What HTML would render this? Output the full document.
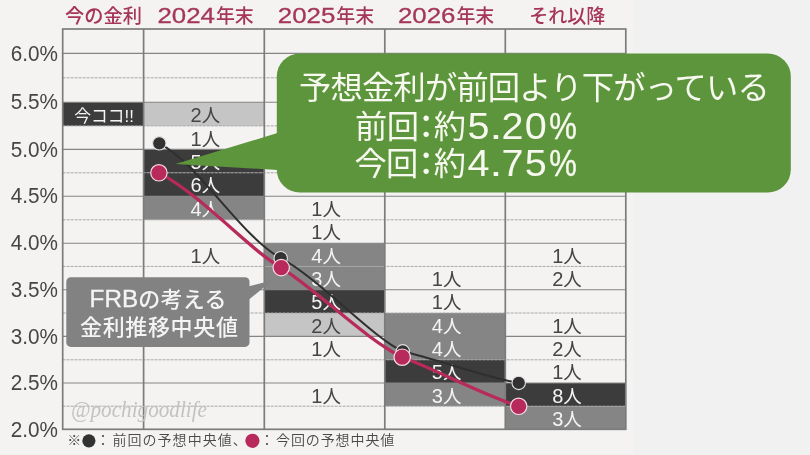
<!DOCTYPE html>
<html lang="ja"><head><meta charset="utf-8"><title>FRB 金利予想</title>
<style>html,body{margin:0;padding:0;background:#f4f3f2;overflow:hidden}svg{display:block;will-change:transform}text{font-family:'Liberation Sans','Noto Sans CJK JP',sans-serif}</style>
</head><body>
<svg width="810" height="455" viewBox="0 0 810 455">
<rect x="0" y="0" width="810" height="455" fill="#f4f3f2"/>
<rect x="633" y="0" width="177" height="455" fill="#f1f1f1"/>
<g>
<rect x="62.7" y="102.2" width="80.9" height="23.7" fill="#3d3c3c"/>
<rect x="143.6" y="102.2" width="120.7" height="23.7" fill="#c6c5c5"/>
<rect x="143.6" y="149.4" width="120.7" height="23.4" fill="#3d3c3c"/>
<rect x="143.6" y="172.8" width="120.7" height="23.4" fill="#3d3c3c"/>
<rect x="143.6" y="196.2" width="120.7" height="23.6" fill="#858585"/>
<rect x="264.3" y="243.2" width="120.5" height="23.2" fill="#858585"/>
<rect x="264.3" y="266.4" width="120.5" height="23.3" fill="#858585"/>
<rect x="264.3" y="289.7" width="120.5" height="23.3" fill="#3d3c3c"/>
<rect x="264.3" y="313.0" width="120.5" height="23.4" fill="#c6c5c5"/>
<rect x="384.8" y="313.0" width="120.5" height="23.4" fill="#858585"/>
<rect x="384.8" y="336.4" width="120.5" height="23.4" fill="#858585"/>
<rect x="384.8" y="359.8" width="120.5" height="23.2" fill="#3d3c3c"/>
<rect x="384.8" y="383.0" width="120.5" height="23.2" fill="#858585"/>
<rect x="505.3" y="383.0" width="120.5" height="23.2" fill="#3d3c3c"/>
<rect x="505.3" y="406.2" width="120.5" height="23.1" fill="#858585"/>
</g>
<g fill="none">
<line x1="62.7" y1="53.4" x2="625.8" y2="53.4" stroke="#858585" stroke-width="1.1"/>
<line x1="62.7" y1="77.8" x2="625.8" y2="77.8" stroke="#a8a8a8" stroke-width="1" stroke-dasharray="3 1"/>
<line x1="62.7" y1="102.2" x2="625.8" y2="102.2" stroke="#858585" stroke-width="1.1"/>
<line x1="62.7" y1="125.9" x2="625.8" y2="125.9" stroke="#a8a8a8" stroke-width="1" stroke-dasharray="3 1"/>
<line x1="62.7" y1="149.4" x2="625.8" y2="149.4" stroke="#858585" stroke-width="1.1"/>
<line x1="62.7" y1="172.8" x2="625.8" y2="172.8" stroke="#a8a8a8" stroke-width="1" stroke-dasharray="3 1"/>
<line x1="62.7" y1="196.2" x2="625.8" y2="196.2" stroke="#858585" stroke-width="1.1"/>
<line x1="62.7" y1="219.8" x2="625.8" y2="219.8" stroke="#a8a8a8" stroke-width="1" stroke-dasharray="3 1"/>
<line x1="62.7" y1="243.2" x2="625.8" y2="243.2" stroke="#858585" stroke-width="1.1"/>
<line x1="62.7" y1="266.4" x2="625.8" y2="266.4" stroke="#a8a8a8" stroke-width="1" stroke-dasharray="3 1"/>
<line x1="62.7" y1="289.7" x2="625.8" y2="289.7" stroke="#858585" stroke-width="1.1"/>
<line x1="62.7" y1="313.0" x2="625.8" y2="313.0" stroke="#a8a8a8" stroke-width="1" stroke-dasharray="3 1"/>
<line x1="62.7" y1="336.4" x2="625.8" y2="336.4" stroke="#858585" stroke-width="1.1"/>
<line x1="62.7" y1="359.8" x2="625.8" y2="359.8" stroke="#a8a8a8" stroke-width="1" stroke-dasharray="3 1"/>
<line x1="62.7" y1="383.0" x2="625.8" y2="383.0" stroke="#858585" stroke-width="1.1"/>
<line x1="62.7" y1="406.2" x2="625.8" y2="406.2" stroke="#a8a8a8" stroke-width="1" stroke-dasharray="3 1"/>
<line x1="143.6" y1="29.0" x2="143.6" y2="429.3" stroke="#7c7c7c" stroke-width="1.7"/>
<line x1="264.3" y1="29.0" x2="264.3" y2="429.3" stroke="#7c7c7c" stroke-width="1.7"/>
<line x1="384.8" y1="29.0" x2="384.8" y2="429.3" stroke="#7c7c7c" stroke-width="1.7"/>
<line x1="505.3" y1="29.0" x2="505.3" y2="429.3" stroke="#7c7c7c" stroke-width="1.7"/>
<rect x="62.7" y="29.0" width="563.1" height="400.3" stroke="#7c7c7c" stroke-width="1.7"/>
</g>
<g font-size="22" fill="#454545" text-anchor="end">
<text x="58" y="60.6" textLength="47.2" lengthAdjust="spacingAndGlyphs">6.0%</text>
<text x="58" y="109.4" textLength="47.2" lengthAdjust="spacingAndGlyphs">5.5%</text>
<text x="58" y="156.6" textLength="47.2" lengthAdjust="spacingAndGlyphs">5.0%</text>
<text x="58" y="203.4" textLength="47.2" lengthAdjust="spacingAndGlyphs">4.5%</text>
<text x="58" y="250.4" textLength="47.2" lengthAdjust="spacingAndGlyphs">4.0%</text>
<text x="58" y="296.9" textLength="47.2" lengthAdjust="spacingAndGlyphs">3.5%</text>
<text x="58" y="343.6" textLength="47.2" lengthAdjust="spacingAndGlyphs">3.0%</text>
<text x="58" y="390.2" textLength="47.2" lengthAdjust="spacingAndGlyphs">2.5%</text>
<text x="58" y="436.5" textLength="47.2" lengthAdjust="spacingAndGlyphs">2.0%</text>
</g>
<g font-size="19.6" font-weight="500" fill="#a5365a">
<text x="65" y="23.3" textLength="77" lengthAdjust="spacingAndGlyphs">今の金利</text>
<text x="157.4" y="23.3"><tspan font-size="22" stroke="#a5365a" stroke-width="0.3" textLength="57.5" lengthAdjust="spacingAndGlyphs">2024</tspan><tspan dx="1" textLength="37.8" lengthAdjust="spacingAndGlyphs">年末</tspan></text>
<text x="277.8" y="23.3"><tspan font-size="22" stroke="#a5365a" stroke-width="0.3" textLength="57.5" lengthAdjust="spacingAndGlyphs">2025</tspan><tspan dx="1" textLength="37.8" lengthAdjust="spacingAndGlyphs">年末</tspan></text>
<text x="397.9" y="23.3"><tspan font-size="22" stroke="#a5365a" stroke-width="0.3" textLength="57.5" lengthAdjust="spacingAndGlyphs">2026</tspan><tspan dx="1" textLength="37.8" lengthAdjust="spacingAndGlyphs">年末</tspan></text>
<text x="529.2" y="23.3" textLength="76" lengthAdjust="spacingAndGlyphs">それ以降</text>
</g>
<g text-anchor="middle">
<text x="104.1" y="121.5" font-size="17" fill="#f4f4f4" textLength="59.6" lengthAdjust="spacingAndGlyphs">今ココ!!</text>
<text x="205.4" y="121.8" fill="#454545"><tspan font-size="20">2</tspan><tspan font-size="18.5">人</tspan></text>
<text x="205.4" y="145.5" fill="#454545"><tspan font-size="20">1</tspan><tspan font-size="18.5">人</tspan></text>
<text x="205.4" y="169.0" fill="#f4f4f4"><tspan font-size="20">5</tspan><tspan font-size="18.5">人</tspan></text>
<text x="205.4" y="192.4" fill="#f4f4f4"><tspan font-size="20">6</tspan><tspan font-size="18.5">人</tspan></text>
<text x="205.4" y="215.8" fill="#f4f4f4"><tspan font-size="20">4</tspan><tspan font-size="18.5">人</tspan></text>
<text x="205.4" y="262.8" fill="#454545"><tspan font-size="20">1</tspan><tspan font-size="18.5">人</tspan></text>
<text x="326.1" y="215.8" fill="#454545"><tspan font-size="20">1</tspan><tspan font-size="18.5">人</tspan></text>
<text x="326.1" y="239.4" fill="#454545"><tspan font-size="20">1</tspan><tspan font-size="18.5">人</tspan></text>
<text x="326.1" y="262.8" fill="#f4f4f4"><tspan font-size="20">4</tspan><tspan font-size="18.5">人</tspan></text>
<text x="326.1" y="286.0" fill="#f4f4f4"><tspan font-size="20">3</tspan><tspan font-size="18.5">人</tspan></text>
<text x="326.1" y="309.3" fill="#f4f4f4"><tspan font-size="20">5</tspan><tspan font-size="18.5">人</tspan></text>
<text x="326.1" y="332.6" fill="#454545"><tspan font-size="20">2</tspan><tspan font-size="18.5">人</tspan></text>
<text x="326.1" y="356.0" fill="#454545"><tspan font-size="20">1</tspan><tspan font-size="18.5">人</tspan></text>
<text x="326.1" y="402.6" fill="#454545"><tspan font-size="20">1</tspan><tspan font-size="18.5">人</tspan></text>
<text x="446.6" y="286.0" fill="#454545"><tspan font-size="20">1</tspan><tspan font-size="18.5">人</tspan></text>
<text x="446.6" y="309.3" fill="#454545"><tspan font-size="20">1</tspan><tspan font-size="18.5">人</tspan></text>
<text x="446.6" y="332.6" fill="#f4f4f4"><tspan font-size="20">4</tspan><tspan font-size="18.5">人</tspan></text>
<text x="446.6" y="356.0" fill="#f4f4f4"><tspan font-size="20">4</tspan><tspan font-size="18.5">人</tspan></text>
<text x="446.6" y="379.4" fill="#f4f4f4"><tspan font-size="20">5</tspan><tspan font-size="18.5">人</tspan></text>
<text x="446.6" y="402.6" fill="#f4f4f4"><tspan font-size="20">3</tspan><tspan font-size="18.5">人</tspan></text>
<text x="567.0" y="262.8" fill="#454545"><tspan font-size="20">1</tspan><tspan font-size="18.5">人</tspan></text>
<text x="567.0" y="286.0" fill="#454545"><tspan font-size="20">2</tspan><tspan font-size="18.5">人</tspan></text>
<text x="567.0" y="332.6" fill="#454545"><tspan font-size="20">1</tspan><tspan font-size="18.5">人</tspan></text>
<text x="567.0" y="356.0" fill="#454545"><tspan font-size="20">2</tspan><tspan font-size="18.5">人</tspan></text>
<text x="567.0" y="379.4" fill="#454545"><tspan font-size="20">1</tspan><tspan font-size="18.5">人</tspan></text>
<text x="567.0" y="402.6" fill="#f4f4f4"><tspan font-size="20">8</tspan><tspan font-size="18.5">人</tspan></text>
<text x="567.0" y="425.8" fill="#f4f4f4"><tspan font-size="20">3</tspan><tspan font-size="18.5">人</tspan></text>
</g>
<path d="M159.3 143.3 C199.3 164.3,238.7 234.2,280.7 258.2 C318.7 278.2,372.8 338.3,402.8 351.3 C437.8 359.8,490.7 378.4,518.7 382.9" fill="none" stroke="#2f2f2f" stroke-width="2"/>
<path d="M158.7 172.7 C203.7 196.7,251.2 251.6,281.2 267.6 C321.2 293.6,364.2 338.2,402.2 357.2 C440.2 371.2,476.7 392.3,518.7 406.3" fill="none" stroke="#b72a5b" stroke-width="3.2"/>
<circle cx="159.3" cy="143.3" r="6.7" fill="#333232" stroke="#e4e1e1" stroke-width="1.1"/>
<circle cx="280.7" cy="258.2" r="6.7" fill="#333232" stroke="#e4e1e1" stroke-width="1.1"/>
<circle cx="402.8" cy="351.3" r="6.7" fill="#333232" stroke="#e4e1e1" stroke-width="1.1"/>
<circle cx="518.7" cy="382.9" r="6.7" fill="#333232" stroke="#e4e1e1" stroke-width="1.1"/>
<circle cx="158.9" cy="172.8" r="8.2" fill="#b72a5b" stroke="#f6dbe4" stroke-width="1.2"/>
<circle cx="281.2" cy="267.6" r="8.2" fill="#b72a5b" stroke="#f6dbe4" stroke-width="1.2"/>
<circle cx="402.2" cy="357.2" r="8.2" fill="#b72a5b" stroke="#f6dbe4" stroke-width="1.2"/>
<circle cx="518.7" cy="406.3" r="8.2" fill="#b72a5b" stroke="#f6dbe4" stroke-width="1.2"/>
<path d="M249 286.2 L272.5 280.2 L249 299.6 Z" fill="#828282"/>
<rect x="66.3" y="277.2" width="183.2" height="69.7" rx="4.5" fill="#828282"/>
<g fill="#f4f4f4" font-size="22" font-weight="500">
<text y="306.7"><tspan x="89.6" font-size="24.8" font-weight="400" stroke="#f4f4f4" stroke-width="0.35" textLength="48.5" lengthAdjust="spacingAndGlyphs">FRB</tspan><tspan x="138.2" letter-spacing="0.3">の考える</tspan></text>
<text x="80" y="335.4" letter-spacing="0.65">金利推移中央値</text>
</g>
<text x="71" y="416.6" font-size="23" font-style="italic" fill="#c3c2c1" style="font-family:'Liberation Serif',serif" textLength="136" lengthAdjust="spacingAndGlyphs">@pochigoodlife</text>
<path d="M175.5 164 L277.5 133 L277.5 170 Z" fill="#5c953b"/>
<rect x="276.8" y="53.4" width="514" height="139.2" rx="23" fill="#5c953b"/>
<g fill="#f7f8ef" font-weight="400" font-size="32.3">
<text x="298.9" y="99" letter-spacing="-0.8">予想金利が前回より下がっている</text>
<text y="137.6"><tspan x="355.0" letter-spacing="-0.6">前回</tspan><tspan x="410" font-weight="500">：</tspan><tspan x="433.8">約</tspan></text>
<text transform="translate(467.6,138.5) scale(1.07,1)" font-size="37">5</text>
<text transform="translate(489.6,138.5) scale(1.25,1)" font-size="37">.</text>
<text transform="translate(501.6,138.5) scale(1.07,1)" font-size="37">2</text>
<text transform="translate(524.8,138.5) scale(1.07,1)" font-size="37">0</text>
<text transform="translate(549.2,138.5) scale(0.84,1)" font-size="37" stroke="#f7f8ef" stroke-width="0.4">%</text>
<text y="175.4"><tspan x="354.4" letter-spacing="-0.6">今回</tspan><tspan x="410" font-weight="500">：</tspan><tspan x="433.8">約</tspan></text>
<text transform="translate(467.6,176.3) scale(1.07,1)" font-size="37">4</text>
<text transform="translate(489.6,176.3) scale(1.25,1)" font-size="37">.</text>
<text transform="translate(501.6,176.3) scale(1.07,1)" font-size="37">7</text>
<text transform="translate(524.8,176.3) scale(1.07,1)" font-size="37">5</text>
<text transform="translate(549.2,176.3) scale(0.84,1)" font-size="37" stroke="#f7f8ef" stroke-width="0.4">%</text>
</g>
<g font-size="14" font-weight="350" fill="#4a4a4a">
<text x="67.2" y="445.2">※</text>
<circle cx="88.9" cy="440.8" r="6.6" fill="#333232"/>
<text x="95.9" y="445.2">：</text>
<text x="112.4" y="445.2" letter-spacing="1.05">前回の予想中央値、</text>
<circle cx="252.4" cy="440.8" r="7.1" fill="#b72a5b"/>
<text x="260" y="445.2">：</text>
<text x="276" y="445.2" letter-spacing="0.9">今回の予想中央値</text>
</g>
</svg>
</body></html>
